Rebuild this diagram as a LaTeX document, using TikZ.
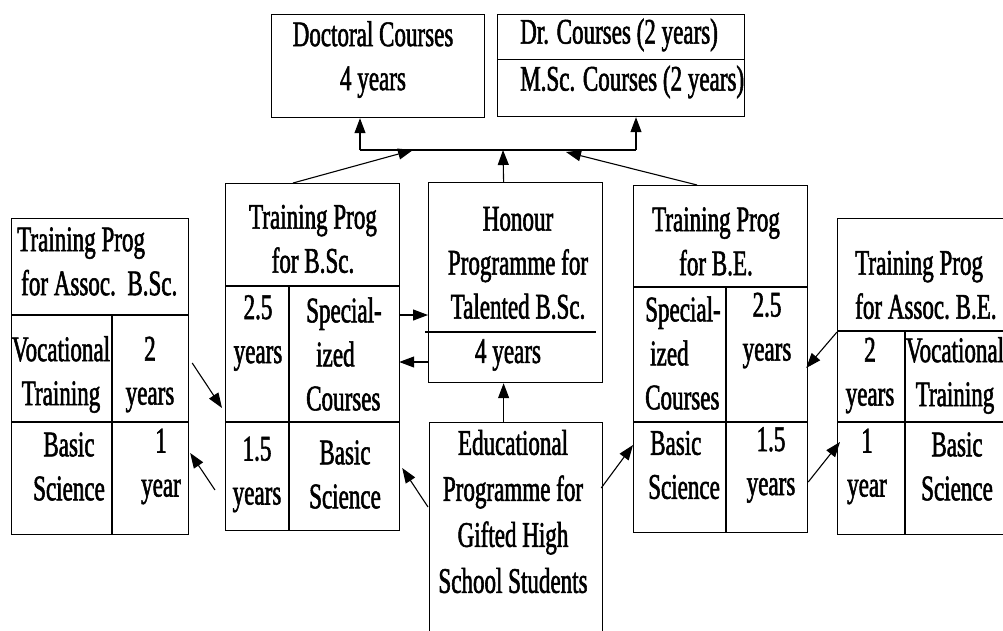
\documentclass[tikz,border=0pt]{standalone}
\usepackage{fontspec}
\setmainfont{Liberation Serif}[FakeStretch=0.64,FakeBold=1.5]
\usetikzlibrary{arrows.meta,calc}
\tikzstyle{progbox} = [draw=black, line width=1.2pt, rectangle, inner sep=0pt, anchor=north west]
\tikzstyle{celltext} = [align=center, inner sep=0pt, font=\fontsize{36}{44}\selectfont]
\tikzstyle{flowarrow} = [line width=1.1pt, -{Triangle[length=15pt,width=11pt]}]
\tikzstyle{divider} = [line width=1.2pt]

\begin{document}
\begin{tikzpicture}[x=1pt,y=-1pt]
                \useasboundingbox (0,0) rectangle (1003,630);
                \clip (0,0) rectangle (1003,630);
                % outer boxes
                \node[progbox, minimum width=213pt, minimum height=103pt] (doc) at (271,14) {};
                \node[progbox, minimum width=247pt, minimum height=102pt] (dr) at (497,14) {};
                \node[progbox, minimum width=177pt, minimum height=316pt] (absc) at (11,218) {};
                \node[progbox, minimum width=174pt, minimum height=347pt] (bsc) at (225,183) {};
                \node[progbox, minimum width=174pt, minimum height=200pt] (hon) at (428,182) {};
                \node[progbox, minimum width=173pt, minimum height=240pt] (edu) at (429,422) {};
                \node[progbox, minimum width=174pt, minimum height=347pt] (be) at (633,185) {};
                \node[progbox, minimum width=172pt, minimum height=316pt] (abe) at (837,218) {};
                % inner rules
                \draw[divider] ([yshift=-45.5pt]dr.north west) -- ([yshift=-45.5pt]dr.north east);
                \draw[divider] ([yshift=-97pt]absc.north west) -- ([yshift=-97pt]absc.north east);
                \draw[divider] ([yshift=-204pt]absc.north west) -- ([yshift=-204pt]absc.north east);
                \draw[divider] ([xshift=101pt,yshift=-97pt]absc.north west) -- ([xshift=101pt]absc.south west);
                \draw[divider] ([yshift=-103pt]bsc.north west) -- ([yshift=-103pt]bsc.north east);
                \draw[divider] ([yshift=-239pt]bsc.north west) -- ([yshift=-239pt]bsc.north east);
                \draw[divider] ([xshift=64pt,yshift=-103pt]bsc.north west) -- ([xshift=64pt]bsc.south west);
                \draw[divider] ([xshift=-3pt,yshift=-150pt]hon.north west) -- ([xshift=-7pt,yshift=-150pt]hon.north east);
                \draw[divider] ([yshift=-102pt]be.north west) -- ([yshift=-102pt]be.north east);
                \draw[divider] ([yshift=-237pt]be.north west) -- ([yshift=-237pt]be.north east);
                \draw[divider] ([xshift=93pt,yshift=-102pt]be.north west) -- ([xshift=93pt]be.south west);
                \draw[divider] ([yshift=-113pt]abe.north west) -- ([yshift=-113pt]abe.north east);
                \draw[divider] ([yshift=-204pt]abe.north west) -- ([yshift=-204pt]abe.north east);
                \draw[divider] ([xshift=68pt,yshift=-113pt]abe.north west) -- ([xshift=68pt]abe.south west);
                % texts
                \node[celltext] (doc-t) at (373,59.5) {Doctoral Courses\\4 years};
                \node[celltext, anchor=west] (dr-t1) at (520,35) {Dr. Courses (2 years)};
                \node[celltext, anchor=west] (dr-t2) at (520,82) {M.Sc. Courses (2 years)};
                \node[celltext, align=left, anchor=west] (absc-t) at (17,261.5) {Training Prog\\\hspace{4pt}for Assoc.\ \ B.Sc.};
                \node[celltext] (absc-voc) at (61,374.5) {Vocational\\Training};
                \node[celltext] (absc-2y) at (150,374.5) {2\\years};
                \node[celltext] (absc-bas) at (69,466.5) {Basic\\Science};
                \node[celltext] (absc-1y) at (161,466.5) {1\\year};
                \node[celltext] (bsc-t) at (313,239) {Training Prog\\for B.Sc.};
                \node[celltext] (bsc-25) at (258,333) {2.5\\years};
                \node[celltext, align=left, anchor=west] (bsc-spec) at (306,354) {Special-\\\hspace{10pt}ized\\Courses};
                \node[celltext] (bsc-15) at (257,474.5) {1.5\\years};
                \node[celltext] (bsc-bas) at (345,474.5) {Basic\\Science};
                \node[celltext] (hon-t) at (518,263) {Honour\\Programme for\\Talented B.Sc.};
                \node[celltext] (hon-4y) at (508,355) {4 years};
                \node[celltext, font=\fontsize{36}{46}\selectfont] (edu-t) at (513,511.5) {Educational\\Programme for\\Gifted High\\School Students};
                \node[celltext] (be-t) at (716,241.5) {Training Prog\\for B.E.};
                \node[celltext, align=left, anchor=west] (be-spec) at (645,353) {Special-\\\hspace{5pt}ized\\Courses};
                \node[celltext] (be-25) at (767,330.5) {2.5\\years};
                \node[celltext, align=left, anchor=west] (be-bas) at (648,465) {\hspace{2pt}Basic\\Science};
                \node[celltext] (be-15) at (771,465) {1.5\\years};
                \node[celltext, align=left, anchor=west] (abe-t) at (855,285) {Training Prog\\for Assoc.\ B.E.};
                \node[celltext] (abe-2y) at (870,375.5) {2\\years};
                \node[celltext] (abe-voc) at (955,375.5) {Vocational\\Training};
                \node[celltext] (abe-1y) at (867,466.5) {1\\year};
                \node[celltext] (abe-bas) at (957,466.5) {Basic\\Science};
                % connectors
                \coordinate (jl) at (360,150);
                \coordinate (jr) at (636,150);
                \draw[line width=1.1pt] (jl) -- (jr);
                \draw[flowarrow] (jl) -- (jl |- doc.south);
                \draw[flowarrow] (jr) -- (jr |- dr.south);
                \draw[flowarrow] ($(hon.north)+(-12,0)$) -- ($(jl)+(143,0)$);
                \draw[flowarrow] ([xshift=68pt]bsc.north west) -- ([xshift=53pt]jl);
                \draw[flowarrow] ([xshift=64pt]be.north west) -- ([xshift=206pt,yshift=-2pt]jl);
                \draw[flowarrow] ([xshift=-12.5pt]edu.north) -- ([xshift=-12pt]hon.south);
                \draw[flowarrow] ([xshift=3pt,yshift=-145pt]absc.north east) -- ([xshift=-3pt,yshift=-225pt]bsc.north west);
                \draw[flowarrow] ([xshift=-10pt,yshift=-307pt]bsc.north west) -- ([xshift=1pt,yshift=-235pt]absc.north east);
                \draw[flowarrow] ([xshift=-1pt,yshift=-85pt]edu.north west) -- ([xshift=2pt,yshift=-285pt]bsc.north east);
                \draw[flowarrow] ([xshift=-1pt,yshift=-132pt]bsc.north east) -- ([yshift=-133pt]hon.north west);
                \draw[flowarrow] ([yshift=-180pt]hon.north west) -- ([xshift=-1pt,yshift=-179pt]bsc.north east);
                \draw[flowarrow] ([xshift=-2pt,yshift=-66pt]edu.north east) -- ([yshift=-260pt]be.north west);
                \draw[flowarrow] ([yshift=-297pt]be.north east) -- ([xshift=3pt,yshift=-224pt]abe.north west);
                \draw[flowarrow] ([yshift=-114pt]abe.north west) -- ([xshift=-2pt,yshift=-183pt]be.north east);
            \end{tikzpicture}
\end{document}
